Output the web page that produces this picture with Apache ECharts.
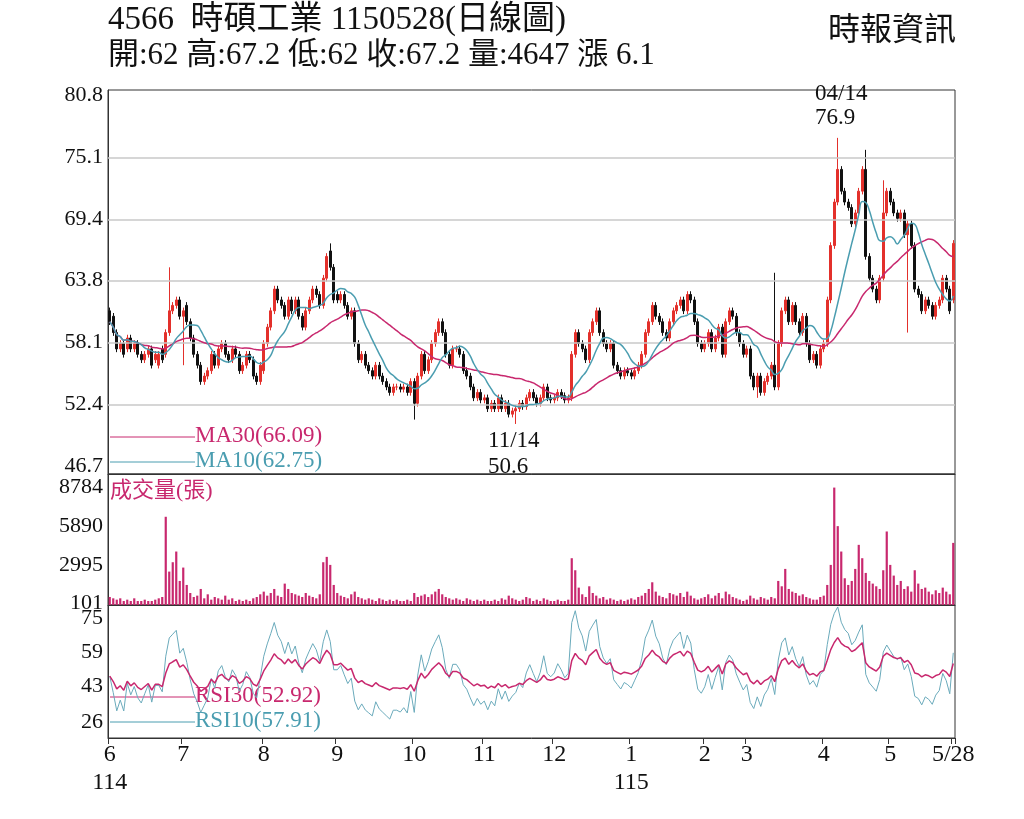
<!DOCTYPE html>
<html><head><meta charset="utf-8">
<script src="https://cdn.jsdelivr.net/npm/echarts@6/dist/echarts.min.js"></script>
<style>html,body{margin:0;background:#fff}#c{width:1024px;height:819px}</style>
</head><body><div id="c"></div>
<script>
const monthLabels = ["6\n114","7","8","9","10","11","12","1\n115","2","3","4","5"];
const monthCounts = [21,23,21,22,20,20,22,21,12,22,19,19];
const lastLabel = "5/28";
const closes = [
60,59,57.5,58,57,58.5,57.5,58,57,56.5,57,57.5,56,57,57,56.5,59,61,61.5,62,60.5,
61,60,58.5,57,56,54.5,55,55.5,57,56,57.5,58,57,56.5,57.5,57,55.5,56,57,56.5,55,54.5,56,
58,59.5,61,63,62,61.5,60.5,62,61,62,60.5,59.5,61,62,63,62.5,61.5,64,66,65,62,
62,62.5,61.5,60.5,61,58,56.5,57,56,55.5,55,56,55,54.5,54,53.5,54,54,53.8,54,53.5,54.5,
52.5,55,57,55.5,56.5,58,59,60,59,57,56,57.5,57.5,57,55.5,55,54,53,53.5,52.8,
53,52,52.5,52,53,52,52.5,51.5,51.8,52,52.5,52.2,53,53.5,53,52.5,53,54,53,52.8,
53,53.5,53.2,52.8,53,57,59,58,57.5,56.5,59,60,61,59,58,57.5,58,56,55.5,55,55.5,55.3,
55,55.5,56,57,59,60,61.5,60.5,60,59,58.5,60,61,61.5,62,61,62.5,62,60,58,57.5,
58,59,57.5,58.5,59.5,57,60,61,60.5,59,58,57,
57.5,55,54,55,53.5,54.5,55,56,54,58,61,62,60,61.5,60,59,60.5,58,56.5,57,56,57.5,
58,62,67,71,74,72,71,70.5,69,70,72,74,66,64,63,62,64,70,72,
71,70,69.5,70,68,69,67,63,62.5,61,62,61.5,60.5,61.5,62,64,63,61,67.2];
const opens = [
61,60.5,59,57.5,58,57.5,58.5,57.5,58,57,56.5,57,57.5,56.5,56,57.5,57,59,61,61.5,62,
60.5,61.5,60,58.5,57,56,54.5,55,55.5,57,56,57.5,58,57,56.5,57.5,57,55.5,56,57,56.5,55,54.5,
55.5,58,59.5,61,63,62,61.5,60.5,62,61,62,60.5,59.5,61,62,63,62.5,61.5,64,66.5,65,
62.5,62,62.5,61.5,60.5,61,58,56.5,57,56,55.5,55,56,55,54.5,54,53.5,54,54,53.8,54,53.5,
54.5,52.5,55,57,55.5,56.5,58,59,60,59,57,56,57.5,57.5,57,55.5,55,54,53,53.5,
52.8,53,52,52.5,52,53,52,52.5,51.5,51.8,52,52.5,52.2,53,53.5,53,52.5,53,54,53,
52.8,53,53.5,53.2,52.8,53,57,59,58,57.5,56.5,59,60,61,59,58,57.5,58,56,55.5,55,55.5,
55.3,55,55.5,56,57,59,60,61.5,60.5,60,59,58.5,60,61,61.5,62,61,62.5,62,60,58,
57.5,58,59,57.5,58.5,59.5,57,60,61,60.5,59,58,
57,57.5,55,54,55,53.5,54.5,55,56,54,58,61,62,60,61.5,60,59,60.5,58,56.5,57,56,
57.5,58,62,67,71,74,72,71,70.5,69,70,72,74,66,64,63,62,64,70,
72,71,70,69.5,70,68,69,67,63,62.5,61,62,61.5,60.5,61.5,62,64,63,62];
const highOverrides = {17:65, 63:67.2, 208:76.9, 216:75.8, 190:64.5, 221:73};
const lowOverrides = {21:56, 87:51, 116:50.6, 185:53, 228:59};
const volumes = [
600,500,400,500,300,400,300,500,300,300,400,300,300,400,500,600,6600,2500,3200,4000,1800,
2800,1500,900,600,700,1200,500,800,400,600,500,400,700,400,500,300,400,300,400,300,500,600,800,
1000,700,900,1200,700,600,1600,1200,900,800,700,600,900,700,600,500,800,3200,3600,3000,1500,
900,700,600,500,800,1000,600,500,400,500,400,300,500,400,300,400,300,400,300,300,400,300,
900,600,700,800,600,800,1000,1200,800,600,500,400,500,400,300,500,400,300,400,300,
400,300,300,400,300,500,400,700,500,400,300,400,600,500,300,400,300,500,400,300,
300,400,300,300,400,3500,2600,1300,800,600,1400,900,700,500,600,400,500,400,300,400,300,400,
500,400,600,700,900,1200,1700,1000,700,600,500,900,800,700,900,600,1000,700,500,400,500,
600,800,500,700,900,500,1000,800,600,500,400,300,
400,700,500,400,600,500,400,600,500,1800,1400,2700,1200,1000,900,700,800,600,500,400,400,600,
700,1500,3000,8784,5900,4000,2000,1500,1800,2700,4500,3500,2400,1800,1600,1400,1200,2600,5500,
3000,2200,1500,1800,1200,1400,1000,2600,1600,1200,1300,1000,800,1100,900,1300,1000,800,4647];
const priceTicks = [46.7,52.4,58.1,63.8,69.4,75.1,80.8];
const volTicks = [101,2995,5890,8784];
const rsiTicks = [26,43,59,75];

const N = closes.length;
const cats = closes.map((_, i) => i);
const starts = {}; let acc = 0;
monthCounts.forEach((c, k) => { starts[acc] = monthLabels[k]; acc += c; });
starts[N - 1] = lastLabel;
const candles = closes.map((c, i) => {
  const o = opens[i];
  const h = highOverrides[i] !== undefined ? highOverrides[i] : Math.max(o, c) + 0.3;
  const l = lowOverrides[i] !== undefined ? lowOverrides[i] : Math.min(o, c) - 0.3;
  return [o, c, l, h];
});
function ma(n) { return closes.map((_, i) => { const s = Math.max(0, i - n + 1); let t = 0; for (let j = s; j <= i; j++) t += closes[j]; return +(t / (i - s + 1)).toFixed(2); }); }
function rsi(n) {
  const out = []; let ag = 0.3, al = 0.33;
  for (let i = 0; i < N; i++) {
    const d = i ? closes[i] - closes[i - 1] : 0; const g = Math.max(d, 0), l = Math.max(-d, 0);
    ag = (ag * (n - 1) + g) / n; al = (al * (n - 1) + l) / n;
    out.push(+(100 * ag / (ag + al)).toFixed(2));
  }
  return out;
}
const F = '"Liberation Serif","Noto Sans CJK TC",serif';
const red = '#e3302b', mag = '#c8286e', teal = '#4a9db0';
const chart = echarts.init(document.getElementById('c'));
const xBase = { type: 'category', data: cats, boundaryGap: true, axisLine: { lineStyle: { color: '#333' } }, axisTick: { show: false }, axisLabel: { show: false }, splitLine: { show: false } };
const yBase = (min, max, ticks, fmt) => ({ type: 'value', min, max, scale: true, axisLine: { show: true, lineStyle: { color: '#333' } }, axisTick: { show: false }, splitLine: { show: false },
  axisLabel: { customValues: ticks, fontFamily: F, fontSize: 22, color: '#111', margin: 5, formatter: fmt } });
chart.setOption({
  animation: false,
  grid: [
    { left: 108, right: 69, top: 90, height: 384, show: true, borderColor: '#333' },
    { left: 108, right: 69, top: 474, height: 131, show: true, borderColor: '#333' },
    { left: 108, right: 69, top: 605, height: 133, show: true, borderColor: '#333' }],
  xAxis: [
    Object.assign({ gridIndex: 0 }, xBase),
    Object.assign({ gridIndex: 1 }, xBase),
    Object.assign({}, xBase, { gridIndex: 2, axisTick: { show: true, interval: (i) => starts[i] !== undefined, length: 6, lineStyle: { color: '#333' } },
      axisLabel: { show: true, interval: (i) => starts[i] !== undefined, formatter: (v) => starts[v], fontFamily: F, fontSize: 24, color: '#111', lineHeight: 28, margin: 3 } })],
  yAxis: [
    Object.assign({ gridIndex: 0 }, yBase(46.0, 81.3, priceTicks, (v) => v.toFixed(1))),
    Object.assign({ gridIndex: 1 }, yBase(0, 9800, volTicks, (v) => String(Math.round(v)))),
    Object.assign({ gridIndex: 2 }, yBase(18.5, 81.1, rsiTicks, (v) => String(Math.round(v))))],
  series: [
    { type: 'candlestick', xAxisIndex: 0, yAxisIndex: 0, data: candles, barWidth: 2.6,
      itemStyle: { color: red, color0: '#111', borderColor: red, borderColor0: '#111', borderWidth: 1 },
      markLine: { silent: true, symbol: 'none', label: { show: false }, lineStyle: { color: '#c8c8c8', type: 'solid', width: 1.5 },
        data: priceTicks.slice(1, 6).map(v => ({ yAxis: v })) } },
    { type: 'line', name: 'MA30', data: ma(30), showSymbol: false, smooth: true, lineStyle: { color: mag, width: 1.5 }, z: 5 },
    { type: 'line', name: 'MA10', data: ma(10), showSymbol: false, smooth: true, lineStyle: { color: teal, width: 1.5 }, z: 5 },
    { type: 'bar', xAxisIndex: 1, yAxisIndex: 1, data: volumes, barWidth: 2.2, itemStyle: { color: mag } },
    { type: 'line', xAxisIndex: 2, yAxisIndex: 2, data: rsi(30), showSymbol: false, lineStyle: { color: mag, width: 1.5 }, z: 5 },
    { type: 'line', xAxisIndex: 2, yAxisIndex: 2, data: rsi(10), showSymbol: false, lineStyle: { color: '#6aaabb', width: 1 }, z: 4 }],
  graphic: [
    { type: 'text', left: 108, top: 4, style: { text: '4566  時碩工業 1150528(日線圖)', font: '33px ' + F, fill: '#111' } },
    { type: 'text', left: 108, top: 40, style: { text: '開:62 高:67.2 低:62 收:67.2 量:4647 漲 6.1', font: '31px ' + F, fill: '#111' } },
    { type: 'text', left: 828, top: 16, style: { text: '時報資訊', font: '32px ' + F, fill: '#111' } },
    { type: 'text', left: 815, top: 82, style: { text: '04/14\n76.9', font: '23px ' + F, fill: '#111', lineHeight: 24 } },
    { type: 'text', left: 488, top: 428, style: { text: '11/14\n50.6', font: '23px ' + F, fill: '#111', lineHeight: 26 } },
    { type: 'line', shape: { x1: 110, y1: 437, x2: 195, y2: 437 }, style: { stroke: mag, lineWidth: 1 } },
    { type: 'text', left: 195, top: 424, style: { text: 'MA30(66.09)', font: '23px ' + F, fill: mag } },
    { type: 'line', shape: { x1: 110, y1: 462, x2: 195, y2: 462 }, style: { stroke: teal, lineWidth: 1 } },
    { type: 'text', left: 195, top: 449, style: { text: 'MA10(62.75)', font: '23px ' + F, fill: teal } },
    { type: 'text', left: 110, top: 480, style: { text: '成交量(張)', font: '22px ' + F, fill: mag } },
    { type: 'line', shape: { x1: 110, y1: 697, x2: 195, y2: 697 }, style: { stroke: mag, lineWidth: 1 } },
    { type: 'text', left: 195, top: 684, style: { text: 'RSI30(52.92)', font: '23px ' + F, fill: mag } },
    { type: 'line', shape: { x1: 110, y1: 722, x2: 195, y2: 722 }, style: { stroke: teal, lineWidth: 1 } },
    { type: 'text', left: 195, top: 709, style: { text: 'RSI10(57.91)', font: '23px ' + F, fill: teal } }]
});
</script></body></html>
